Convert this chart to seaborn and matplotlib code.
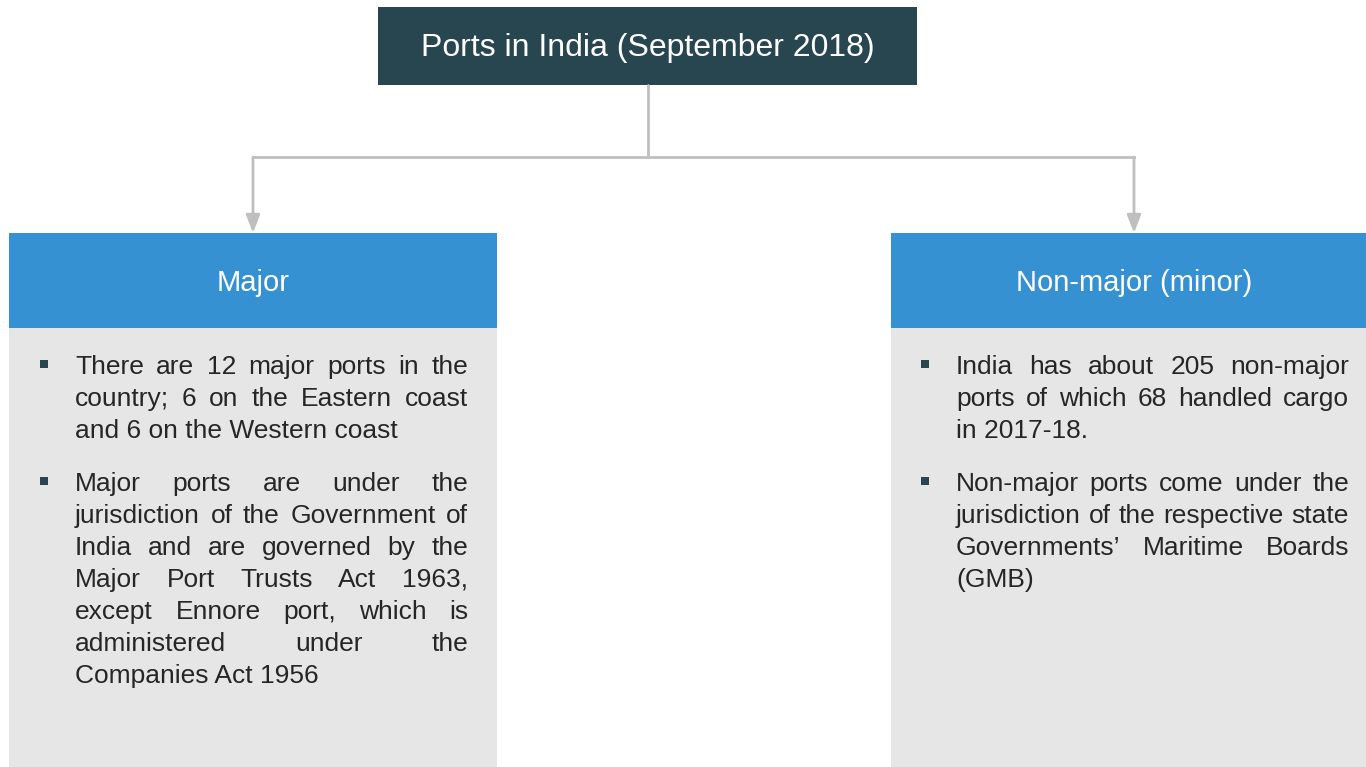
import matplotlib
matplotlib.use("Agg")
import matplotlib.pyplot as plt
import seaborn as sns
from matplotlib.patches import Rectangle

# | Content |-----------------------------------------------------------------------------------------------------------|
title_text = "Ports in India (September 2018)"
header_labels = ["Major", "Non-major (minor)"]

# each bullet is a list of lines, as broken in the reference (justified except last line)
major_bullets = [
    ["There are 12 major ports in the",
     "country; 6 on the Eastern coast",
     "and 6 on the Western coast"],
    ["Major ports are under the",
     "jurisdiction of the Government of",
     "India and are governed by the",
     "Major Port Trusts Act 1963,",
     "except Ennore port, which is",
     "administered under the",
     "Companies Act 1956"],
]
minor_bullets = [
    ["India has about 205 non-major",
     "ports of which 68 handled cargo",
     "in 2017-18."],
    ["Non-major ports come under the",
     "jurisdiction of the respective state",
     "Governments\u2019 Maritime Boards",
     "(GMB)"],
]

# | Style |-------------------------------------------------------------------------------------------------------------|
DARK_TEAL = "#284650"
BLUE = "#3591D1"
BODY_GREY = "#E6E6E6"
LINE_GREY = "#BFBFBF"
TEXT_DARK = "#262626"
BODY_SIZE = 19

sns.set_theme(style="white")
plt.rcParams["font.family"] = ["Liberation Sans", "DejaVu Sans"]

W, H = 1366, 767
fig = plt.figure(figsize=(W / 100, H / 100), dpi=100)
ax = fig.add_axes([0, 0, 1, 1])
ax.set_xlim(0, W)
ax.set_ylim(H, 0)
ax.axis("off")

# top box
ax.add_patch(Rectangle((378, 7), 539, 78, color=DARK_TEAL, lw=0))
ax.text(648, 48, title_text, color="white", fontsize=23, ha="center", va="center")

# connectors
ax.plot([648, 648], [85, 157], color=LINE_GREY, lw=2)
ax.plot([253, 1134], [157, 157], color=LINE_GREY, lw=2, solid_capstyle="projecting")
for x in (253, 1134):
    ax.annotate("", xy=(x, 233), xytext=(x, 157),
                arrowprops=dict(arrowstyle="-|>,head_length=0.9,head_width=0.35",
                                color=LINE_GREY, lw=2, shrinkA=0, shrinkB=0))

# (box left, box width, label centre, label, bullets, bullet x, text left, text right)
columns = [
    (9, 488, 253, header_labels[0], major_bullets, 44, 75, 468),
    (891, 475, 1134, header_labels[1], minor_bullets, 925, 956, 1349),
]

fig.canvas.draw()
renderer = fig.canvas.get_renderer()


def text_width(s, size):
    t = ax.text(0, 0, s, fontsize=size)
    w = t.get_window_extent(renderer).width
    t.remove()
    return w


def draw_justified(lines, x0, x1, y, size, step):
    for i, line in enumerate(lines):
        words = line.split(" ")
        last = i == len(lines) - 1
        if last or len(words) == 1:
            ax.text(x0, y, line, fontsize=size, color=TEXT_DARK, ha="left", va="baseline")
        else:
            widths = [text_width(w, size) for w in words]
            gap = (x1 - x0 - sum(widths)) / (len(words) - 1)
            x = x0
            for w, wd in zip(words, widths):
                ax.text(x, y, w, fontsize=size, color=TEXT_DARK, ha="left", va="baseline")
                x += wd + gap
        y += step
    return y


for left, width, cx, label, bullets, bx, tx0, tx1 in columns:
    ax.add_patch(Rectangle((left, 233), width, 95, color=BLUE, lw=0))
    ax.add_patch(Rectangle((left, 328), width, H - 328, color=BODY_GREY, lw=0))
    ax.text(cx, 283, label, color="white", fontsize=21, ha="center", va="center")

    y = 374
    for para in bullets:
        ax.add_patch(Rectangle((bx - 4, y - 14), 8, 8, color=DARK_TEAL, lw=0))
        y = draw_justified(para, tx0, tx1, y, BODY_SIZE, 32) + 21

fig.savefig("out.png", dpi=100)
